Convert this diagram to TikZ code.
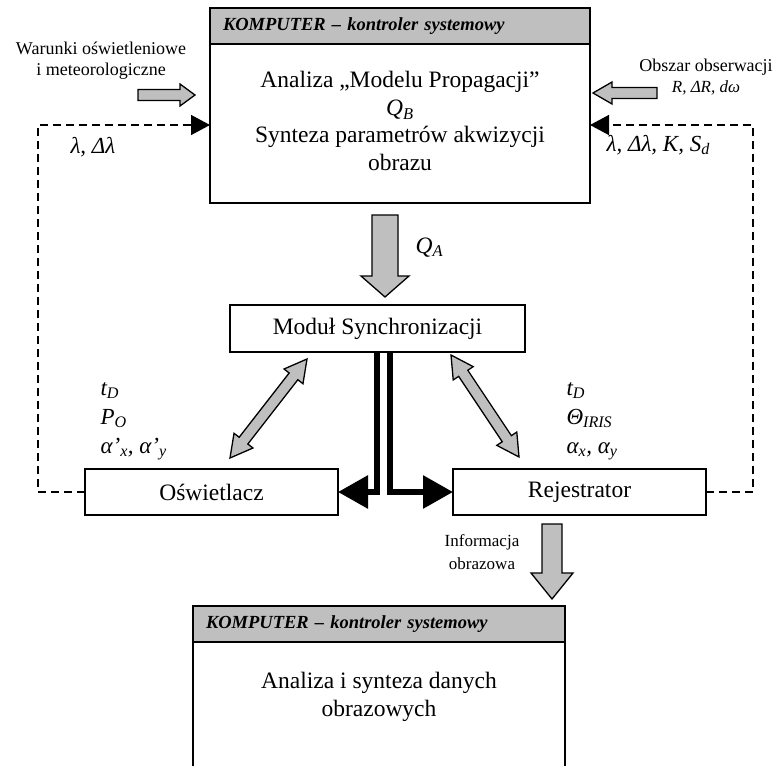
\documentclass[tikz,border=0pt]{standalone}
\usepackage{fontspec}
\setmainfont{Liberation Serif}
\usetikzlibrary{calc,arrows.meta}
\definecolor{boxgray}{gray}{0.75}
\newcommand\sbs[1]{\textsubscript{\textit{#1}}}
\def\fatarrow[#1](#2)(#3)(#4:#5:#6){\coordinate (hb) at ($(#3)!#6!(#2)$);
	\draw[#1] ($(#2)!#4!90:(#3)$) -- ($(hb)!#4!90:(#3)$) -- ($(hb)!#5!90:(#3)$) -- (#3) -- ($(hb)!#5!-90:(#3)$) -- ($(hb)!#4!-90:(#3)$) -- ($(#2)!#4!-90:(#3)$) -- cycle;}
\def\fatdarrow[#1](#2)(#3)(#4:#5:#6){\coordinate (ha) at ($(#2)!#6!(#3)$); \coordinate (hb) at ($(#3)!#6!(#2)$);
	\draw[#1] (#2) -- ($(ha)!#5!90:(#3)$) -- ($(ha)!#4!90:(#3)$) -- ($(hb)!#4!90:(#3)$) -- ($(hb)!#5!90:(#3)$) -- (#3) -- ($(hb)!#5!-90:(#3)$) -- ($(hb)!#4!-90:(#3)$) -- ($(ha)!#4!-90:(#3)$) -- ($(ha)!#5!-90:(#3)$) -- cycle;}

\begin{document}
\begin{tikzpicture}[x=1pt, y=-1pt,
		main/.style={font=\fontsize{23.5}{27.5}\selectfont},
		box/.style={main, draw, line width=1.6pt, outer sep=0pt, inner sep=0pt},
		head/.style={box, fill=boxgray, anchor=north west, minimum height=36pt, inner xsep=13pt, align=left, font=\fontsize{18.5}{20}\selectfont\bfseries\itshape},
		fat/.style={draw, fill=boxgray, line width=1.3pt, line join=miter},
		feedback/.style={line width=1.4pt, dash pattern=on 8pt off 5pt, -{Triangle[length=19pt,width=20pt]}},
		bus/.style={line width=6pt, -{Triangle[length=30pt,width=32pt]}},
		param/.style={font=\fontsize{23}{29}\selectfont\itshape, align=left, anchor=base west},
		note/.style={font=\fontsize{18}{21}\selectfont, align=center}]
			%%%%% START %%%%%
			\useasboundingbox (0,0) rectangle (778,765);
			
			\node[box, anchor=north west, minimum width=380pt, minimum height=195pt] (komp) at (210,8) {};
			\node[head, text width=354pt] (kompHead) at (210,8) {KOMPUTER – kontroler systemowy};
			\node[main, align=center] (kompText) at (400,121) {Analiza „Modelu Propagacji”\\ \textit{Q}\sbs{B}\\ Synteza parametrów akwizycji\\ obrazu};
			
			\node[box, minimum width=295pt, minimum height=47pt] (mod) at (377.5,328.5) {Moduł Synchronizacji};
			\node[box, minimum width=253pt, minimum height=46pt] (osw) at (211.5,492) {Oświetlacz};
			\node[box, minimum width=253pt, minimum height=46pt] (rej) at (579.5,492) {Rejestrator};
			
			\node[head, text width=346pt] (outHead) at (193,606) {KOMPUTER – kontroler systemowy};
			\draw[line width=1.6pt] (outHead.south west) -- ++(0,124) (outHead.south east) -- ++(0,124);
			\node[main, align=center] (outText) at (379,697) {Analiza i synteza danych\\ obrazowych};
			
			\node[note] (warunki) at (101,61) {Warunki oświetleniowe\\ i meteorologiczne};
			\node[note] (obszar) at (706,77) {Obszar obserwacji\\ {\fontsize{17}{21}\selectfont\itshape R, ΔR, dω}};
			\node[note, font=\fontsize{17}{23}\selectfont] (info) at (482,552) {Informacja\\ obrazowa};
			
			\node[param] (lamL) at (67,153) {λ, Δλ};
			\node[param] (lamR) at (603,151) {λ, Δλ, K, S\sbs{d}};
			\node[param, font=\fontsize{23.5}{27.5}\selectfont\itshape] (qa) at (412,253) {Q\sbs{A}};
			\node[param] (parOsw) at (97,453) {t\sbs{D}\\ P\sbs{O}\\ α’\sbs{x}, α’\sbs{y}};
			\node[param] (parRej) at (563,453) {t\sbs{D}\\ Θ\sbs{IRIS}\\ α\sbs{x}, α\sbs{y}};
			
			% feedback
			\coordinate (fbL) at (38,125);
			\coordinate (fbR) at (753,125);
			\draw[feedback] (osw.west) -| (fbL) -- (fbL -| komp.west);
			\draw[feedback] (rej.east) -| (fbR) -- (fbR -| komp.east);
			
			% trigger lines
			\draw[bus] ([xshift=-0.5pt]mod.south) |- (osw.east);
			\draw[bus] ([xshift=12.5pt]mod.south) |- (rej.west);
			
			% block arrows
			\coordinate (qaTop) at ($(komp.south)+(-15,12)$);
			\coordinate (qaTip) at ($(mod.north)+(7.5,-8)$);
			\fatarrow[fat](qaTop)(qaTip)(13pt:24pt:21pt)
			\coordinate (infoTop) at ($(rej.south)+(-27.5,9)$);
			\coordinate (infoTip) at ($(outHead.north east)+(-13,-7)$);
			\fatarrow[fat](infoTop)(infoTip)(10pt:21pt:26pt)
			\coordinate (warTail) at (138,95);
			\coordinate (warTip) at ($(komp.north west)+(-15,87)$);
			\fatarrow[fat](warTail)(warTip)(5.5pt:11pt:15pt)
			\coordinate (obsTail) at (657,93);
			\coordinate (obsTip) at ($(komp.north east)+(3,85)$);
			\fatarrow[fat](obsTail)(obsTip)(5.5pt:11pt:19pt)
			
			\coordinate (oswA) at ($(osw.north)+(18.5,-11)$);
			\coordinate (oswB) at ($(mod.south)+(-70.5,7)$);
			\fatdarrow[fat](oswA)(oswB)(5.5pt:12pt:22pt)
			\coordinate (rejA) at ($(mod.south)+(73.5,3)$);
			\coordinate (rejB) at ($(rej.north)+(-60.5,-12)$);
			\fatdarrow[fat](rejA)(rejB)(5.5pt:12pt:22pt)
			%%%%% END %%%%%
\end{tikzpicture}
\end{document}
